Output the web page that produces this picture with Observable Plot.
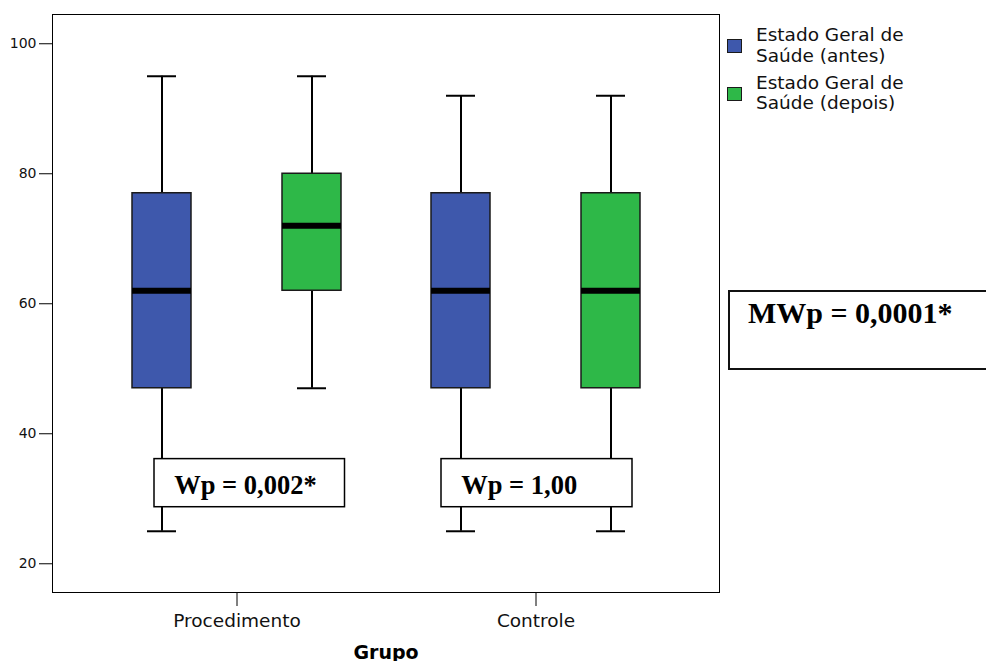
<!DOCTYPE html>
<html><head><meta charset="utf-8">
<script src="https://cdn.jsdelivr.net/npm/d3@7"></script>
<script src="https://cdn.jsdelivr.net/npm/@observablehq/plot@0.6"></script>
<style>
body{margin:0;background:#fff;}
#wrap{position:relative;width:986px;height:661px;overflow:hidden;}
.lg-sw{position:absolute;width:15px;height:14px;box-sizing:border-box;border:1.5px solid #1a1a1a;}
.lg-tx{position:absolute;font-family:'DejaVu Sans',sans-serif;font-size:18.5px;line-height:20.5px;color:#111;white-space:nowrap;}
#mw{position:absolute;left:728px;top:290px;width:280px;height:80px;box-sizing:border-box;border:2px solid #111;background:#fff;}
#mw span{position:absolute;left:18px;top:4px;font-family:'Liberation Serif','Times New Roman',serif;font-weight:bold;font-size:30px;line-height:34px;color:#000;white-space:nowrap;}
</style></head><body><div id="wrap"></div>
<script>
// ---- data ----
const groups = ["Procedimento", "Controle"];
const series = ["Estado Geral de Saúde (antes)", "Estado Geral de Saúde (depois)"];
const legendLines = [["Estado Geral de", "Saúde (antes)"], ["Estado Geral de", "Saúde (depois)"]];
const antesMin = [25, 25];
const antesQ1 = [47, 47];
const antesMedian = [62, 62];
const antesQ3 = [77, 77];
const antesMax = [95, 92];
const depoisMin = [47, 25];
const depoisQ1 = [62, 47];
const depoisMedian = [72, 62];
const depoisQ3 = [80, 77];
const depoisMax = [95, 92];
const yTicks = [20, 40, 60, 80, 100];
const wpLabels = ["Wp = 0,002*", "Wp = 1,00"];
const wpLow = [28.7, 28.7];
const wpHigh = [36.1, 36.1];
const mwLabel = "MWp = 0,0001*";
const xLabel = "Grupo";

// ---- table ----
const rows = [];
groups.forEach((g, i) => {
  rows.push({group: g, series: series[0], min: antesMin[i], q1: antesQ1[i], median: antesMedian[i], q3: antesQ3[i], max: antesMax[i]});
  rows.push({group: g, series: series[1], min: depoisMin[i], q1: depoisQ1[i], median: depoisMedian[i], q3: depoisQ3[i], max: depoisMax[i]});
});

const colors = ["#3E58AC", "#2EB848"];
const offsets = [-75, 75];
const marks = [];
series.forEach((s, k) => {
  const d = rows.filter(r => r.series === s);
  const dx = offsets[k];
  marks.push(
    Plot.ruleX(d, {x: "group", y1: "min", y2: "q1", dx, stroke: "#000", strokeWidth: 2}),
    Plot.ruleX(d, {x: "group", y1: "q3", y2: "max", dx, stroke: "#000", strokeWidth: 2}),
    Plot.tickY(d, {x: "group", y: "min", dx, insetLeft: 135, insetRight: 135, stroke: "#000", strokeWidth: 2}),
    Plot.tickY(d, {x: "group", y: "max", dx, insetLeft: 135, insetRight: 135, stroke: "#000", strokeWidth: 2}),
    Plot.barY(d, {x: "group", y1: "q1", y2: "q3", dx, fill: "series", stroke: "#1a1a1a", strokeWidth: 1.5, insetLeft: 120, insetRight: 120}),
    Plot.tickY(d, {x: "group", y: "median", dx, insetLeft: 120, insetRight: 120, stroke: "#000", strokeWidth: 6})
  );
});

const annInsets = [[67, 41.5], [55, 53]];
const annDx = [-62.8, -74.8];
wpLabels.forEach((lab, i) => {
  const d = [{group: groups[i], label: lab, lo: wpLow[i], hi: wpHigh[i]}];
  marks.push(
    Plot.barY(d, {x: "group", y1: "lo", y2: "hi", fill: "white", stroke: "#000", strokeWidth: 1.5, insetLeft: annInsets[i][0], insetRight: annInsets[i][1]}),
    Plot.text(d, {x: "group", y: r => (r.lo + r.hi) / 2, text: "label", textAnchor: "start", dx: annDx[i], dy: 2, lineAnchor: "middle",
      fontFamily: "'Liberation Serif','Times New Roman',serif", fontWeight: "bold", fontSize: 26.5, fill: "#000"})
  );
});

marks.push(
  Plot.frame({stroke: "#000", strokeWidth: 1}),
  Plot.axisY({ticks: yTicks, tickSize: 13, tickPadding: 3, fontSize: 14, label: null, stroke: "#000"}),
  Plot.axisX({tickSize: 14, tickPadding: 7, fontSize: 18.5, label: null, stroke: "#000"}),
  Plot.text([xLabel], {text: d => d, frameAnchor: "bottom", dy: 66, lineAnchor: "bottom", fontWeight: "bold", fontSize: 19, fill: "#000"})
);

const plot = Plot.plot({
  width: 986,
  height: 661,
  marginLeft: 52,
  marginRight: 267,
  marginTop: 14,
  marginBottom: 69,
  style: {fontFamily: "'DejaVu Sans', sans-serif", fontSize: "14px", color: "#111", background: "#fff"},
  x: {domain: groups, paddingInner: 0, paddingOuter: 0.1117, label: null},
  y: {domain: [15.58, 104.5], label: null},
  color: {domain: series, range: colors},
  marks
});

const wrap = document.getElementById("wrap");
wrap.appendChild(plot);

// legend
const cs = plot.scale("color");
const tops = [25, 72.6];
const swTops = [39, 87];
series.forEach((s, k) => {
  const sw = document.createElement("div");
  sw.className = "lg-sw";
  sw.style.left = "727px";
  sw.style.top = swTops[k] + "px";
  sw.style.background = cs.range[k];
  wrap.appendChild(sw);
  const tx = document.createElement("div");
  tx.className = "lg-tx";
  tx.style.left = "756px";
  tx.style.top = tops[k] + "px";
  tx.innerHTML = legendLines[k].join("<br>");
  wrap.appendChild(tx);
});

// MW annotation
const mw = document.createElement("div");
mw.id = "mw";
const sp = document.createElement("span");
sp.textContent = mwLabel;
mw.appendChild(sp);
wrap.appendChild(mw);
</script></body></html>
